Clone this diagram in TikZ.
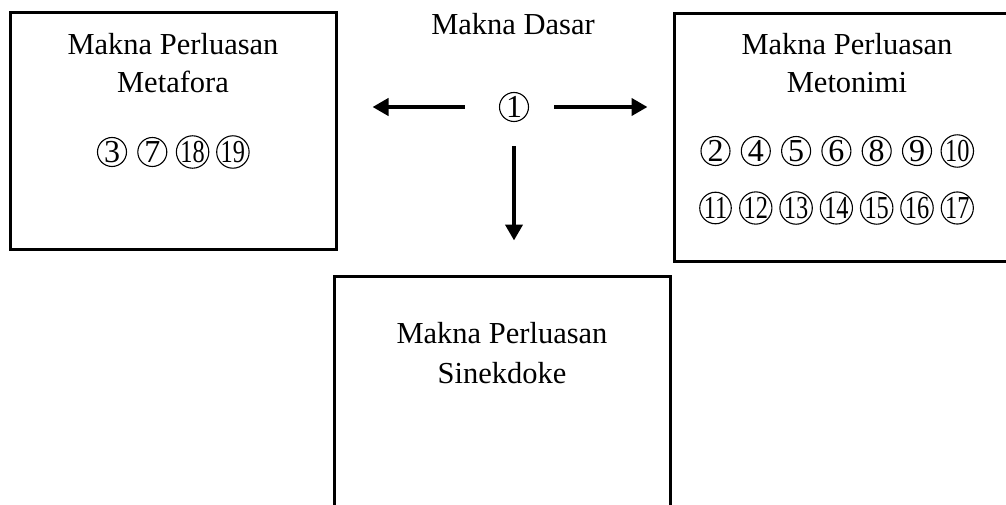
\documentclass[tikz,border=0pt]{standalone}
\usepackage{fontspec}
\setmainfont{Liberation Serif}
\usetikzlibrary{arrows.meta}
% digit inside a circle; two-digit numbers are squeezed to fit
\newcommand{\cdigit}[1]{\ifnum#1>9 \scalebox{0.76}[1]{#1}\else #1\fi}
\begin{document}
\begin{tikzpicture}[x=1pt,y=-1pt,
  box/.style={draw, line width=3pt, rectangle, inner sep=0pt},
  title/.style={font=\fontsize{30.5}{36}\selectfont, anchor=base, inner sep=0pt},
  cn/.style={draw, circle, line width=1.1pt, minimum size=29pt, inner sep=0pt,
             font=\fontsize{32}{36}\selectfont},
  arr/.style={line width=4.5pt, -{Triangle[length=16pt,width=17pt]}}
]
\useasboundingbox (0,0) rectangle (1006,505);
\clip (0,0) rectangle (1006,505);

% boxes
\node[box, minimum width=326pt, minimum height=236pt] (meta) at (173,131) {};
\node[box, minimum width=346pt, minimum height=248pt] (meto) at (847,137.8) {};
\node[box, minimum width=336pt, minimum height=324pt] (sine) at (502,438) {};

% titles
\node[title] (dasar) at (513,35) {Makna Dasar};
\node[title] (metaA) at (173,55) {Makna Perluasan};
\node[title] (metaB) at (173,93) {Metafora};
\node[title] (metoA) at (847,55) {Makna Perluasan};
\node[title] (metoB) at (847,93) {Metonimi};
\node[title] (sineA) at (502,343) {Makna Perluasan};
\node[title] (sineB) at (502,383) {Sinekdoke};

% basic meaning
\node[cn] (n1) at (514,107) {1};

% extended meanings
\foreach \n [count=\i from 0] in {3,7,18,19}
  \node[cn] (c\n) at (112+40.3*\i,152) {\cdigit{\n}};
\foreach \n [count=\i from 0] in {2,4,5,6,8,9,10}
  \node[cn] (c\n) at (715.5+40.3*\i,151) {\cdigit{\n}};
\foreach \n [count=\i from 0] in {11,12,13,14,15,16,17}
  \node[cn] (c\n) at (715.5+40.3*\i,208) {\cdigit{\n}};

% arrows
\draw[arr, shorten <=34pt, shorten >=35pt] (n1) -- (meta.east |- n1);
\draw[arr, shorten <=25pt, shorten >=25pt] (n1) -- (meto.west |- n1);
\draw[arr, shorten <=24pt, shorten >=34pt] (n1) -- (sine.north -| n1);
\end{tikzpicture}
\end{document}
